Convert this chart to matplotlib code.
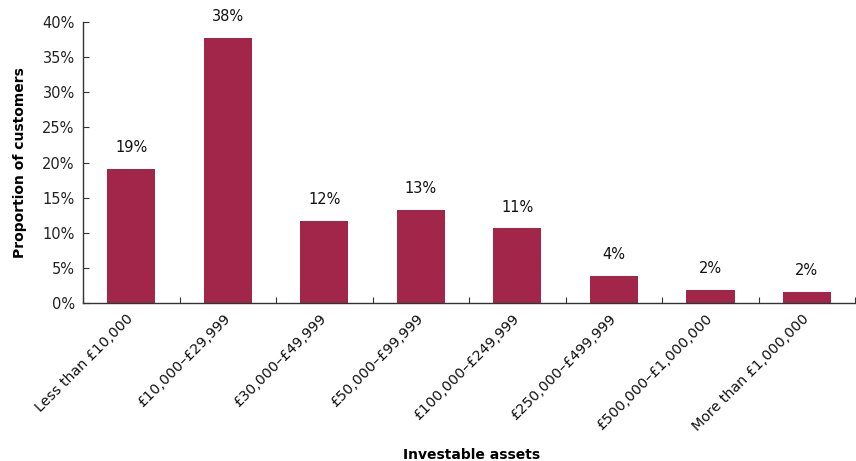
import numpy as np
import matplotlib
matplotlib.use('Agg')
import matplotlib.pyplot as plt
from matplotlib.transforms import ScaledTranslation

# 数据
categories = ['Less than £10,000', '£10,000–£29,999', '£30,000–£49,999',
              '£50,000–£99,999', '£100,000–£249,999', '£250,000–£499,999',
              '£500,000–£1,000,000', 'More than £1,000,000']
values = [19.1, 37.8, 11.7, 13.3, 10.6, 3.9, 1.9, 1.5]
labels = ['19%', '38%', '12%', '13%', '11%', '4%', '2%', '2%']
yticks = [0, 5, 10, 15, 20, 25, 30, 35, 40]

plt.rcParams['font.family'] = ['DejaVu Sans']
fig = plt.figure(figsize=(8.56, 4.61), dpi=100)
ax = fig.add_axes([0.097, 0.343, 0.902, 0.609])

x = np.arange(len(categories))
bars = ax.bar(x, values, width=0.5, color='#A12649')

for xi, v, t in zip(x, values, labels):
    ax.annotate(t, (xi, v), xytext=(0, 10), textcoords='offset points',
                ha='center', va='bottom', fontsize=10.5, color='#111111')

ax.set_xlim(-0.5, len(categories) - 0.5)
ax.set_ylim(0, 40)
ax.set_yticks(yticks)
ax.set_yticklabels(['%d%%' % t for t in yticks], fontsize=10.5, color='#222222')

# 类别刻度在类别之间，标签在类别中心
ax.set_xticks(np.arange(len(categories) + 1) - 0.5)
ax.set_xticklabels([])
ax.set_xticks(x, minor=True)
ax.set_xticklabels(categories, minor=True, rotation=45, ha='right', va='center',
                   rotation_mode='anchor', fontsize=10.3, color='#111111')
off = ScaledTranslation(-3 / 72, 0, fig.dpi_scale_trans)
for lab in ax.get_xticklabels(minor=True):
    lab.set_transform(lab.get_transform() + off)
ax.tick_params(axis='x', which='minor', length=0, pad=10)
ax.tick_params(axis='x', which='major', length=4, direction='in', color='#333333')
ax.tick_params(axis='y', length=4, direction='in', color='#333333', pad=6)

for s in ['top', 'right']:
    ax.spines[s].set_visible(False)
for s in ['left', 'bottom']:
    ax.spines[s].set_color('#333333')
    ax.spines[s].set_linewidth(1.0)

ax.set_ylabel('Proportion of customers', fontsize=10, fontweight='bold')
ax.yaxis.set_label_coords(-0.072, 0.5)
ax.set_xlabel('Investable assets', fontsize=10, fontweight='bold')
ax.xaxis.set_label_coords(0.503, -0.518)

fig.savefig('out.png', dpi=100)
